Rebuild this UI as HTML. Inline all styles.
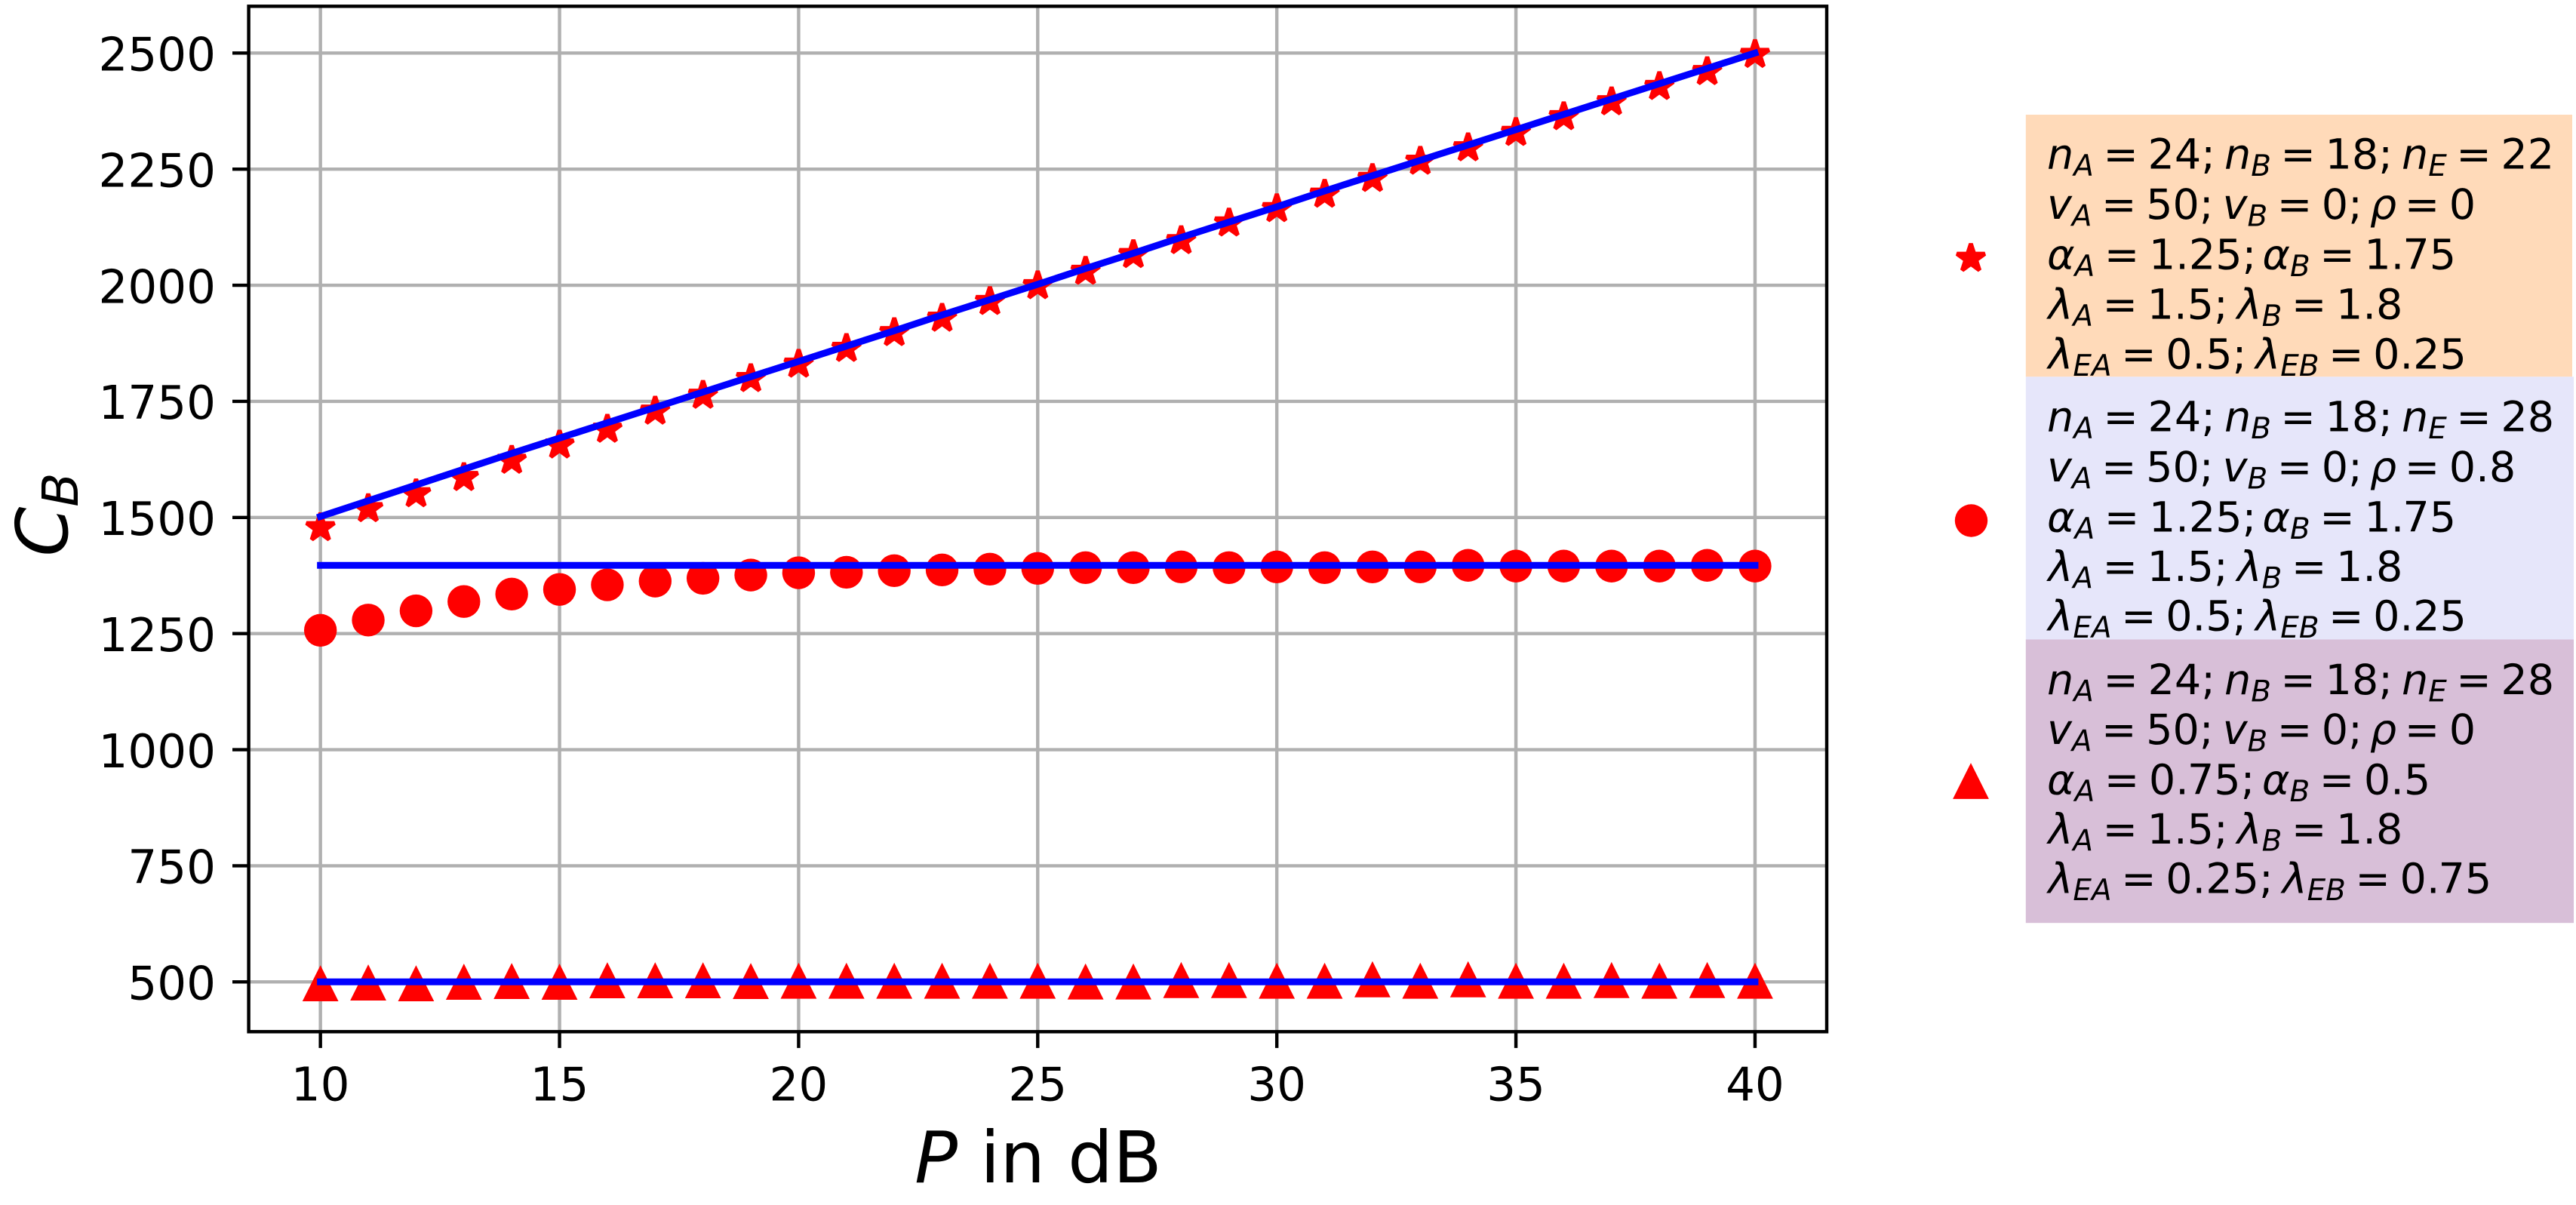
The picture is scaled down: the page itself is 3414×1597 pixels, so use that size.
<!DOCTYPE html>
<html lang="en">
<head>
<meta charset="utf-8">
<title>C_B versus P in dB</title>
<style>
html,body{margin:0;padding:0;background:#fff;width:3414px;height:1597px;overflow:hidden}
svg{display:block}
text{font-family:"DejaVu Sans","Liberation Sans",sans-serif;fill:#000;font-kerning:none}
.leg text{font-size:55.6px}
.i{font-style:italic}
.s{font-style:italic;font-size:38.9px}
</style>
</head>
<body>
<svg id="chart" xmlns="http://www.w3.org/2000/svg" width="3414" height="1597" viewBox="0 0 3414 1597">
  <rect x="0" y="0" width="3414" height="1597" fill="#fff"/>
  <g id="grid"></g>
  <g id="marks"></g>
  <g id="lines"></g>
  <g id="ticks"></g>
  <rect x="329.6" y="8.3" width="2091.4" height="1359" fill="none" stroke="#000" stroke-width="4.44"/>
  <text x="1376" y="1567" text-anchor="middle" font-size="94.4"><tspan class="i">P</tspan> in dB</text>
  <text transform="translate(89,682) rotate(-90)" text-anchor="middle" font-size="94.4"><tspan class="i">C</tspan><tspan class="i" font-size="66" dy="14">B</tspan></text>

  <g class="leg">
    <rect x="2684.8" y="152" width="724.2" height="347.3" fill="#FFDAB9"/>
    <rect x="2684.8" y="499.3" width="726.2" height="348.2" fill="#E6E6FA"/>
    <rect x="2684.8" y="847.5" width="726.2" height="375.7" fill="#D8BFD8"/>

    <polygon transform="translate(2612,342.4)" points="0,-19.45 4.37,-6.01 18.5,-6.01 7.07,2.3 11.43,15.74 0,7.43 -11.43,15.74 -7.07,2.3 -18.5,-6.01 -4.37,-6.01" fill="#f00" stroke="#f00" stroke-width="5.5" stroke-linejoin="bevel"/>
    <circle cx="2612.5" cy="690" r="21.7" fill="#f00"/>
    <polygon transform="translate(2612,1036.7)" points="0,-19.45 -19.45,19.45 19.45,19.45" fill="#f00" stroke="#f00" stroke-width="5.5" stroke-linejoin="miter" stroke-miterlimit="10"/>

    <g>
      <text x="2713" y="223.3"><tspan class="i">n</tspan><tspan class="s" dy="9.5">A</tspan><tspan dx="12.5" dy="-9.5">=</tspan><tspan dx="12.5">24;</tspan><tspan class="i" dx="12">n</tspan><tspan class="s" dy="9.5">B</tspan><tspan dx="12.5" dy="-9.5">=</tspan><tspan dx="12.5">18;</tspan><tspan class="i" dx="12">n</tspan><tspan class="s" dy="9.5">E</tspan><tspan dx="12.5" dy="-9.5">=</tspan><tspan dx="12.5">22</tspan></text>
      <text x="2713" y="290"><tspan class="i">v</tspan><tspan class="s" dy="9.5">A</tspan><tspan dx="12.5" dy="-9.5">=</tspan><tspan dx="12.5">50;</tspan><tspan class="i" dx="12">v</tspan><tspan class="s" dy="9.5">B</tspan><tspan dx="12.5" dy="-9.5">=</tspan><tspan dx="12.5">0;</tspan><tspan class="i" dx="10">ρ</tspan><tspan dx="10.5">=</tspan><tspan dx="12.5">0</tspan></text>
      <text x="2713" y="356.7"><tspan class="i">α</tspan><tspan class="s" dy="9.5">A</tspan><tspan dx="12.5" dy="-9.5">=</tspan><tspan dx="12.5">1.25;</tspan><tspan class="i" dx="8">α</tspan><tspan class="s" dy="9.5">B</tspan><tspan dx="12.5" dy="-9.5">=</tspan><tspan dx="12.5">1.</tspan><tspan dx="-2">75</tspan></text>
      <text x="2714.5" y="422.7"><tspan class="i">λ</tspan><tspan class="s" dy="9.5">A</tspan><tspan dx="12.5" dy="-9.5">=</tspan><tspan dx="12.5">1.5;</tspan><tspan class="i" dx="12">λ</tspan><tspan class="s" dy="9.5">B</tspan><tspan dx="12.5" dy="-9.5">=</tspan><tspan dx="12.5">1.8</tspan></text>
      <text x="2714.5" y="488.3"><tspan class="i">λ</tspan><tspan class="s" dy="9.5">EA</tspan><tspan dx="12.5" dy="-9.5">=</tspan><tspan dx="12.5">0.5;</tspan><tspan class="i" dx="12">λ</tspan><tspan class="s" dy="9.5">EB</tspan><tspan dx="12.5" dy="-9.5">=</tspan><tspan dx="12.5">0.25</tspan></text>
    </g>

    <g>
      <text x="2713" y="571.7"><tspan class="i">n</tspan><tspan class="s" dy="9.5">A</tspan><tspan dx="12.5" dy="-9.5">=</tspan><tspan dx="12.5">24;</tspan><tspan class="i" dx="12">n</tspan><tspan class="s" dy="9.5">B</tspan><tspan dx="12.5" dy="-9.5">=</tspan><tspan dx="12.5">18;</tspan><tspan class="i" dx="12">n</tspan><tspan class="s" dy="9.5">E</tspan><tspan dx="12.5" dy="-9.5">=</tspan><tspan dx="12.5">28</tspan></text>
      <text x="2713" y="638.2"><tspan class="i">v</tspan><tspan class="s" dy="9.5">A</tspan><tspan dx="12.5" dy="-9.5">=</tspan><tspan dx="12.5">50;</tspan><tspan class="i" dx="12">v</tspan><tspan class="s" dy="9.5">B</tspan><tspan dx="12.5" dy="-9.5">=</tspan><tspan dx="12.5">0;</tspan><tspan class="i" dx="10">ρ</tspan><tspan dx="10.5">=</tspan><tspan dx="12.5">0.8</tspan></text>
      <text x="2713" y="704.6"><tspan class="i">α</tspan><tspan class="s" dy="9.5">A</tspan><tspan dx="12.5" dy="-9.5">=</tspan><tspan dx="12.5">1.25;</tspan><tspan class="i" dx="8">α</tspan><tspan class="s" dy="9.5">B</tspan><tspan dx="12.5" dy="-9.5">=</tspan><tspan dx="12.5">1.</tspan><tspan dx="-2">75</tspan></text>
      <text x="2714.5" y="770"><tspan class="i">λ</tspan><tspan class="s" dy="9.5">A</tspan><tspan dx="12.5" dy="-9.5">=</tspan><tspan dx="12.5">1.5;</tspan><tspan class="i" dx="12">λ</tspan><tspan class="s" dy="9.5">B</tspan><tspan dx="12.5" dy="-9.5">=</tspan><tspan dx="12.5">1.8</tspan></text>
      <text x="2714.5" y="835.4"><tspan class="i">λ</tspan><tspan class="s" dy="9.5">EA</tspan><tspan dx="12.5" dy="-9.5">=</tspan><tspan dx="12.5">0.5;</tspan><tspan class="i" dx="12">λ</tspan><tspan class="s" dy="9.5">EB</tspan><tspan dx="12.5" dy="-9.5">=</tspan><tspan dx="12.5">0.25</tspan></text>
    </g>

    <g>
      <text x="2713" y="919.8"><tspan class="i">n</tspan><tspan class="s" dy="9.5">A</tspan><tspan dx="12.5" dy="-9.5">=</tspan><tspan dx="12.5">24;</tspan><tspan class="i" dx="12">n</tspan><tspan class="s" dy="9.5">B</tspan><tspan dx="12.5" dy="-9.5">=</tspan><tspan dx="12.5">18;</tspan><tspan class="i" dx="12">n</tspan><tspan class="s" dy="9.5">E</tspan><tspan dx="12.5" dy="-9.5">=</tspan><tspan dx="12.5">28</tspan></text>
      <text x="2713" y="986.2"><tspan class="i">v</tspan><tspan class="s" dy="9.5">A</tspan><tspan dx="12.5" dy="-9.5">=</tspan><tspan dx="12.5">50;</tspan><tspan class="i" dx="12">v</tspan><tspan class="s" dy="9.5">B</tspan><tspan dx="12.5" dy="-9.5">=</tspan><tspan dx="12.5">0;</tspan><tspan class="i" dx="10">ρ</tspan><tspan dx="10.5">=</tspan><tspan dx="12.5">0</tspan></text>
      <text x="2713" y="1052.6"><tspan class="i">α</tspan><tspan class="s" dy="9.5">A</tspan><tspan dx="12.5" dy="-9.5">=</tspan><tspan dx="12.5">0.</tspan><tspan dx="-2">75;</tspan><tspan class="i" dx="9.5">α</tspan><tspan class="s" dy="9.5">B</tspan><tspan dx="12.5" dy="-9.5">=</tspan><tspan dx="12.5">0.5</tspan></text>
      <text x="2714.5" y="1118"><tspan class="i">λ</tspan><tspan class="s" dy="9.5">A</tspan><tspan dx="12.5" dy="-9.5">=</tspan><tspan dx="12.5">1.5;</tspan><tspan class="i" dx="12">λ</tspan><tspan class="s" dy="9.5">B</tspan><tspan dx="12.5" dy="-9.5">=</tspan><tspan dx="12.5">1.8</tspan></text>
      <text x="2714.5" y="1183.5"><tspan class="i">λ</tspan><tspan class="s" dy="9.5">EA</tspan><tspan dx="12.5" dy="-9.5">=</tspan><tspan dx="12.5">0.25;</tspan><tspan class="i" dx="12">λ</tspan><tspan class="s" dy="9.5">EB</tspan><tspan dx="12.5" dy="-9.5">=</tspan><tspan dx="12.5">0.</tspan><tspan dx="-2">75</tspan></text>
    </g>
  </g>
</svg>
<script>
const xTicks = [10, 15, 20, 25, 30, 35, 40];
const yTicks = [500, 750, 1000, 1250, 1500, 1750, 2000, 2250, 2500];
const powerDb = [10,11,12,13,14,15,16,17,18,19,20,21,22,23,24,25,26,27,28,29,30,31,32,33,34,35,36,37,38,39,40];
const starValues = [1478,1519,1551,1586,1623,1656,1690,1729,1763,1799,1830,1864,1898,1929,1965,1999,2030,2066,2096,2134,2165,2196,2230,2267,2296,2329,2363,2395,2428,2460,2497];
const circleValues = [1257,1279,1299,1319,1335,1345,1355,1363,1369,1376,1381,1382,1385.4,1387,1388.7,1390.3,1392,1392,1393.6,1392,1393.6,1392,1393.6,1393.6,1396.9,1395.3,1395.3,1395.3,1395.3,1396.9,1395.3];
const triangleValues = [494.3,496,494.3,497.6,499.2,497.6,500.8,500.8,500.8,499.2,499.7,499.7,499.7,499.7,499.7,499.7,498.1,498.1,501.3,501.3,499.7,499.7,502.9,499.7,502.9,499.7,499.7,501.3,499.7,501.3,499.7];
const lineTopValues = [1502,1536,1570,1604,1638,1671,1704,1737,1770,1803,1836,1869,1902,1936,1969,2002,2036,2069,2103,2136,2169,2203,2236,2269,2302,2335,2368,2401,2434,2467,2500];
const lineMiddleValues = [1397,1397,1397,1397,1397,1397,1397,1397,1397,1397,1397,1397,1397,1397,1397,1397,1397,1397,1397,1397,1397,1397,1397,1397,1397,1397,1397,1397,1397,1397,1397];
const lineBottomValues = [500,500,500,500,500,500,500,500,500,500,500,500,500,500,500,500,500,500,500,500,500,500,500,500,500,500,500,500,500,500,500];

const NS = 'http://www.w3.org/2000/svg';
const frame = {left: 329.6, right: 2421, top: 8.3, bottom: 1367.3};
function sx(x) { return frame.left + (x - 8.5) * 63.376; }
function sy(v) { return 70.3 + (2500 - v) * 0.6155; }
function make(tag, parent) {
  const el = document.createElementNS(NS, tag);
  parent.appendChild(el);
  return el;
}
function setAll(el, attrs) {
  Object.keys(attrs).forEach(function (k) { el.setAttribute(k, attrs[k]); });
  return el;
}
const gridG = document.getElementById('grid');
const ticksG = document.getElementById('ticks');
const marksG = document.getElementById('marks');
const linesG = document.getElementById('lines');

xTicks.forEach(function (t) {
  const px = sx(t);
  const g = setAll(make('line', gridG), {x1: px, x2: px, y1: frame.top, y2: frame.bottom, stroke: '#b0b0b0', 'stroke-width': 4.44});
  
  
  const m = setAll(make('line', ticksG), {x1: px, x2: px, y1: frame.bottom, y2: frame.bottom + 21.6, stroke: '#000', 'stroke-width': 4.44});
  
  
  const l = setAll(make('text', ticksG), {x: px, y: 1458.5, 'text-anchor': 'middle', 'font-size': 61.1});
  l.textContent = String(t);
  
  
});
yTicks.forEach(function (t) {
  const py = sy(t);
  const g = setAll(make('line', gridG), {x1: frame.left, x2: frame.right, y1: py, y2: py, stroke: '#b0b0b0', 'stroke-width': 4.44});
  
  
  const m = setAll(make('line', ticksG), {x1: frame.left - 21.6, x2: frame.left, y1: py, y2: py, stroke: '#000', 'stroke-width': 4.44});
  
  
  const l = setAll(make('text', ticksG), {x: 286, y: py + 23.2, 'text-anchor': 'end', 'font-size': 61.1});
  l.textContent = String(t);
  
  
});

function starPoints(cx, cy) {
  const r = 19.45, pts = [];
  for (let k = 0; k < 10; k++) {
    const rad = k % 2 ? r * 0.381966 : r;
    const a = k * Math.PI / 5;
    pts.push((cx + rad * Math.sin(a)).toFixed(2) + ',' + (cy - rad * Math.cos(a)).toFixed(2));
  }
  return pts.join(' ');
}
function trianglePoints(cx, cy) {
  const h = 19.45;
  return [cx + ',' + (cy - h), (cx - h) + ',' + (cy + h), (cx + h) + ',' + (cy + h)].join(' ');
}
powerDb.forEach(function (p, i) {
  const star = setAll(make('polygon', marksG), {points: starPoints(sx(p), sy(starValues[i])), fill: '#f00', stroke: '#f00', 'stroke-width': 5.5, 'stroke-linejoin': 'bevel'});
  
  
  const circle = setAll(make('circle', marksG), {cx: sx(p), cy: sy(circleValues[i]), r: 21.7, fill: '#f00'});
  
  
  const tri = setAll(make('polygon', marksG), {points: trianglePoints(sx(p), sy(triangleValues[i])), fill: '#f00', stroke: '#f00', 'stroke-width': 5.5, 'stroke-linejoin': 'miter', 'stroke-miterlimit': 10});
  
  
});

function drawLine(values, name) {
  const pts = powerDb.map(function (p, i) { return sx(p).toFixed(2) + ',' + sy(values[i]).toFixed(2); }).join(' ');
  const line = setAll(make('polyline', linesG), {points: pts, fill: 'none', stroke: '#00f', 'stroke-width': 9, 'stroke-linecap': 'square', 'stroke-linejoin': 'round'});
  
  
}
drawLine(lineTopValues, 'line-top');
drawLine(lineMiddleValues, 'line-middle');
drawLine(lineBottomValues, 'line-bottom');
</script>
</body>
</html>
